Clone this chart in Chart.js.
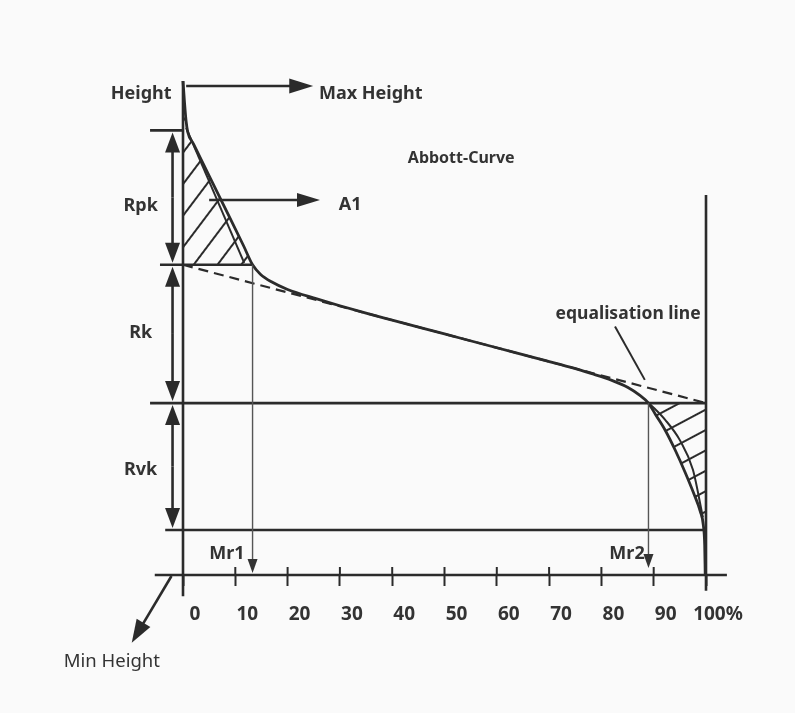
<!DOCTYPE html>
<html>
<head>
<meta charset="utf-8">
<title>Abbott-Curve</title>
<script src="https://cdn.jsdelivr.net/npm/chart.js@4.4.0/dist/chart.umd.min.js"></script>
<style>
  html, body { margin: 0; padding: 0; background: #fafafa; }
  canvas { display: block; }
</style>
</head>
<body>
<canvas id="abbottChart" width="795" height="713"></canvas>
<script>
// Abbott-Firestone (material ratio) curve with the Rk / Rpk / Rvk construction

// material ratio in %, height in relative units (0 = min height, 100 = max height)
const curveRatio  = [0, 0.3, 0.6, 0.9, 2.0, 5.0, 9.2, 11.6, 13.3, 14.8, 17.0, 20.0, 25.6, 30.0, 35.0, 40.0, 50.0, 60.0, 67.7, 74.0, 78.0, 82.0, 85.0, 87.3, 89.0, 90.4, 92.2, 94.1, 96.0, 97.7, 98.9, 99.5, 99.75, 99.85];
const curveHeight = [100, 95.5, 91.8, 89.7, 87.3, 80.8, 71.8, 66.6, 62.8, 60.9, 59.3, 57.8, 55.9, 54.5, 53.0, 51.6, 48.8, 46.0, 43.84, 42.08, 40.8, 39.4, 38.0, 36.4, 34.8, 32.4, 29.3, 25.3, 20.8, 16.4, 12.9, 10.0, 6.0, 0];

// equalisation (secant) line
const eqRatio  = [0, 100];
const eqHeight = [62.8, 34.8];

// inner strokes of the two hatched areas
const innerA1Ratio  = [0.6, 11.7];
const innerA1Height = [90.5, 63.2];
const innerA2Ratio  = [89.2, 92.2, 95.0, 97.5, 99.4];
const innerA2Height = [34.7, 31.4, 27.3, 21.3, 11.7];

// characteristic heights and material ratios
const maxHeight = 99;
const levelNames   = ['Rpk', 'Rk', 'Rvk'];
const levelTops    = [90, 62.8, 34.8];
const levelBottoms = [62.8, 34.8, 9.1];
const mrNames  = ['Mr1', 'Mr2'];
const mrValues = [13.3, 89.0];

const INK = '#2b2b2b';
const TEXT = '#333333';
const FONT = '"Noto Sans", "DejaVu Sans", sans-serif';

const canvas = document.getElementById('abbottChart');
const ctx = canvas.getContext('2d');

function points(xs, ys) {
    return xs.map((x, i) => ({ x: x, y: ys[i] }));
}

// diagonal hatch pattern, lines rotated by `angle` degrees
function makeHatch(angle, gap, width) {
    const tile = document.createElement('canvas');
    tile.width = 4;
    tile.height = gap;
    const t = tile.getContext('2d');
    t.fillStyle = INK;
    t.fillRect(0, Math.round((gap - width) / 2), 4, width);
    const pattern = ctx.createPattern(tile, 'repeat');
    pattern.setTransform(new DOMMatrix().rotateSelf(angle));
    return pattern;
}

// areas between the curve and the level lines
const a1End = curveRatio.indexOf(mrValues[0]);
const a2Start = curveRatio.indexOf(mrValues[1]);
const a2End = curveRatio.indexOf(99.5);
const a1Points = points(curveRatio.slice(0, a1End + 1), curveHeight.slice(0, a1End + 1));
const a2Points = points(curveRatio.slice(a2Start, a2End + 1), curveHeight.slice(a2Start, a2End + 1));
a2Points.push({ x: 100, y: curveHeight[a2End] });

function arrowHead(c, fx, fy, tx, ty, len, half) {
    const a = Math.atan2(ty - fy, tx - fx);
    const bx = tx - len * Math.cos(a), by = ty - len * Math.sin(a);
    c.beginPath();
    c.moveTo(tx, ty);
    c.lineTo(bx + half * Math.sin(a), by - half * Math.cos(a));
    c.lineTo(bx - half * Math.sin(a), by + half * Math.cos(a));
    c.closePath();
    c.fill();
}

function segment(c, x1, y1, x2, y2, w) {
    c.lineWidth = w;
    c.beginPath();
    c.moveTo(x1, y1);
    c.lineTo(x2, y2);
    c.stroke();
}

function arrow(c, x1, y1, x2, y2, w, len, half) {
    const a = Math.atan2(y2 - y1, x2 - x1);
    segment(c, x1, y1, x2 - len * 0.6 * Math.cos(a), y2 - len * 0.6 * Math.sin(a), w);
    arrowHead(c, x1, y1, x2, y2, len, half);
}

// axis frame, level lines, arrows and labels
const annotations = {
    id: 'annotations',
    afterDatasetsDraw(chart) {
        const c = chart.ctx;
        const sx = chart.scales.x, sy = chart.scales.y;
        const X = v => sx.getPixelForValue(v);
        const Y = v => sy.getPixelForValue(v);
        c.save();
        c.strokeStyle = INK;
        c.fillStyle = INK;
        c.lineCap = 'butt';

        // axes and right border
        segment(c, X(0), Y(100), X(0), Y(-4.3), 2.6);
        segment(c, X(-5.4), Y(0), X(104), Y(0), 2.6);
        segment(c, X(100), Y(76.9), X(100), Y(-3.2), 2.6);
        sx.ticks.forEach(t => segment(c, X(t.value), Y(0) - 8, X(t.value), Y(0), 2));

        // level lines
        segment(c, X(-6.3), Y(levelTops[0]), X(0), Y(levelTops[0]), 2.6);
        segment(c, X(-4.4), Y(levelTops[1]), X(mrValues[0]), Y(levelTops[1]), 2.6);
        segment(c, X(-6.3), Y(levelTops[2]), X(100), Y(levelTops[2]), 2.6);
        segment(c, X(-3.4), Y(levelBottoms[2]), X(100), Y(levelBottoms[2]), 2.6);

        // double arrows for Rpk, Rk, Rvk
        const ax = X(-2.0);
        levelNames.forEach((name, i) => {
            const top = Y(levelTops[i]) + 2, bottom = Y(levelBottoms[i]) - 2;
            const mid = (top + bottom) / 2;
            arrow(c, ax, mid, ax, top, 2.6, 20, 7.5);
            arrow(c, ax, mid, ax, bottom, 2.6, 20, 7.5);
        });

        // material ratio markers
        c.strokeStyle = '#555';
        c.fillStyle = '#333';
        const mrTops = [levelTops[1], levelTops[2]];
        const mrTips = [0.4, 1.4];
        mrValues.forEach((v, i) => {
            arrow(c, X(v), Y(mrTops[i]), X(v), Y(mrTips[i]), 1.4, 14, 5);
        });

        c.strokeStyle = INK;
        c.fillStyle = INK;
        // max height, A1 and min height arrows
        arrow(c, X(0.6), Y(maxHeight), X(24.9), Y(maxHeight), 2.6, 24, 7.5);
        arrow(c, X(5.0), Y(75.9), X(26.2), Y(75.9), 2.6, 23, 7);
        arrow(c, X(-2.2), Y(-0.2), X(-9.8), Y(-13.7), 2.6, 23, 8);
        // pointer to the equalisation line
        segment(c, X(82.6), Y(50.3), X(88.3), Y(39.5), 2);

        // labels
        const labels = [
            { text: 'Height', x: -8.0, y: 97.4, align: 'center', size: 18 },
            { text: 'Max Height', x: 26.0, y: 97.4, align: 'left', size: 18 },
            { text: 'Abbott-Curve', x: 53.2, y: 84.4, align: 'center', size: 16 },
            { text: 'A1', x: 29.8, y: 74.9, align: 'left', size: 18 },
            { text: 'equalisation line', x: 85.1, y: 52.8, align: 'center', size: 17.5 },
            { text: 'Mr1', x: 8.4, y: 4.2, align: 'center', size: 18 },
            { text: 'Mr2', x: 84.9, y: 4.2, align: 'center', size: 18 }
        ];
        const levelLabelY = [74.7, 49.0, 21.3];
        levelNames.forEach((name, i) => {
            labels.push({ text: name, x: -8.1, y: levelLabelY[i], align: 'center', size: 18 });
        });
        c.fillStyle = TEXT;
        c.textBaseline = 'middle';
        labels.forEach(l => {
            c.font = 'bold ' + l.size + 'px ' + FONT;
            c.textAlign = l.align;
            c.fillText(l.text, X(l.x), Y(l.y));
        });
        c.font = '18.5px ' + FONT;
        c.textAlign = 'center';
        c.fillText('Min Height', X(-13.6), Y(-17.6));
        c.restore();
    }
};

const hatchA1 = makeHatch(-53, 19, 2);
const hatchA2 = makeHatch(-28, 18, 2);

new Chart(canvas, {
    type: 'line',
    data: {
        datasets: [
            {
                label: 'Abbott-Curve',
                data: points(curveRatio, curveHeight),
                borderColor: INK,
                borderWidth: 2.8,
                cubicInterpolationMode: 'monotone',
                pointRadius: 0,
                fill: false,
                clip: false
            },
            {
                label: 'equalisation line',
                data: points(eqRatio, eqHeight),
                borderColor: INK,
                borderWidth: 2.2,
                borderDash: [10, 6],
                tension: 0,
                pointRadius: 0,
                fill: false,
                clip: false
            },
            {
                label: 'A1 inner',
                data: points(innerA1Ratio, innerA1Height),
                borderColor: INK,
                borderWidth: 2,
                tension: 0,
                pointRadius: 0,
                fill: false
            },
            {
                label: 'A2 inner',
                data: points(innerA2Ratio, innerA2Height),
                borderColor: INK,
                borderWidth: 2,
                cubicInterpolationMode: 'monotone',
                pointRadius: 0,
                fill: false
            },
            {
                label: 'A1',
                data: a1Points,
                borderWidth: 0,
                borderColor: 'rgba(0,0,0,0)',
                backgroundColor: hatchA1,
                cubicInterpolationMode: 'monotone',
                pointRadius: 0,
                fill: { value: levelTops[1] }
            },
            {
                label: 'A2',
                data: a2Points,
                borderWidth: 0,
                borderColor: 'rgba(0,0,0,0)',
                backgroundColor: hatchA2,
                cubicInterpolationMode: 'monotone',
                pointRadius: 0,
                fill: { value: levelTops[2] }
            }
        ]
    },
    options: {
        responsive: false,
        animation: false,
        devicePixelRatio: 1,
        layout: { padding: { left: 183, right: 89, top: 81, bottom: 88 } },
        plugins: {
            legend: { display: false },
            tooltip: { enabled: false }
        },
        scales: {
            x: {
                type: 'linear',
                min: 0,
                max: 100,
                border: { display: false },
                grid: {
                    display: true,
                    drawOnChartArea: false,
                    drawTicks: true,
                    tickLength: 11,
                    tickWidth: 2,
                    tickColor: INK
                },
                ticks: {
                    stepSize: 10,
                    autoSkip: false,
                    maxRotation: 0,
                    padding: 17,
                    labelOffset: 12,
                    color: TEXT,
                    font: { family: FONT, size: 19, weight: 'bold' },
                    callback: v => (v === 100 ? '100%' : v)
                },
                afterFit: scale => { scale.height = 50; }
            },
            y: {
                type: 'linear',
                min: 0,
                max: 100,
                display: false
            }
        }
    },
    plugins: [annotations]
});
</script>
</body>
</html>
